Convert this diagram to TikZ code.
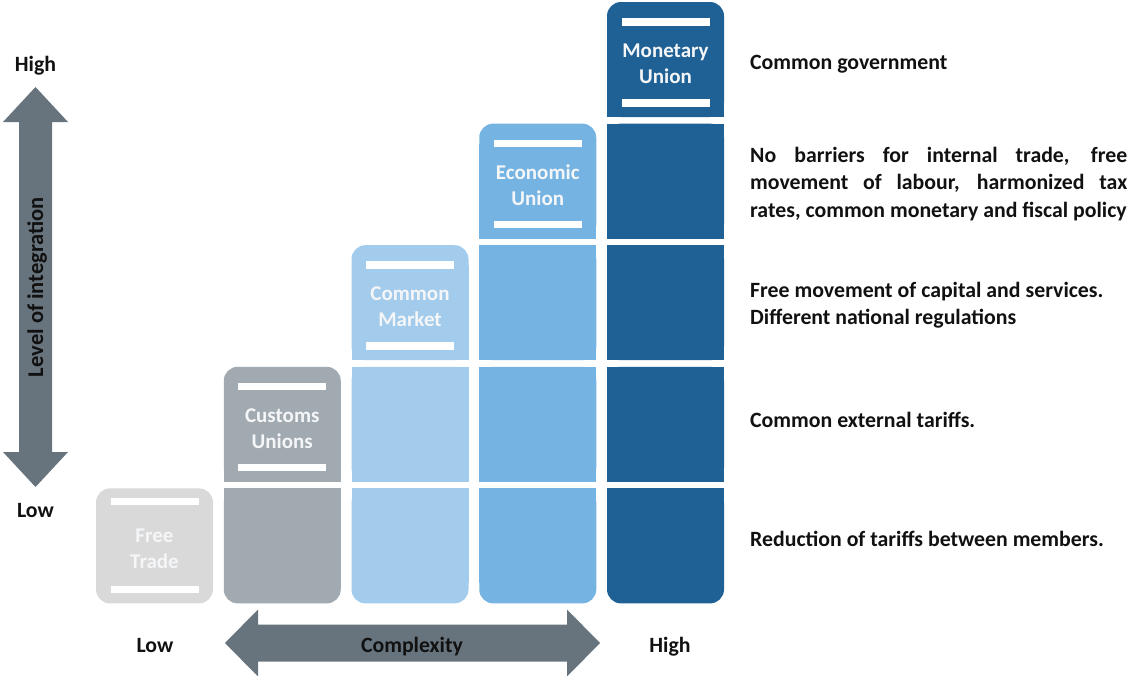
\documentclass[tikz,border=0pt]{standalone}
\usepackage{fontspec}
\setmainfont{Carlito}
\definecolor{ftc}{HTML}{D9D9D9}
\definecolor{cuc}{HTML}{A2AAB1}
\definecolor{cmc}{HTML}{A3CBEC}
\definecolor{euc}{HTML}{75B3E2}
\definecolor{muc}{HTML}{1F6095}
\definecolor{arc}{HTML}{67747D}
\definecolor{txc}{HTML}{111111}
\definecolor{lbc}{HTML}{F4F6F8}
\begin{document}
\begin{tikzpicture}[x=1pt,y=-1pt,
  lbl/.style={font=\bfseries\fontsize{21}{27}\selectfont, text=lbc, anchor=base, inner sep=0pt},
  desc/.style={font=\bfseries\fontsize{21.8}{27}\selectfont, text=txc, anchor=base west, inner sep=0pt},
  axislbl/.style={font=\bfseries\fontsize{21.8}{27}\selectfont, text=txc, anchor=base, inner sep=0pt},
  bar/.style={fill=white}]
\path[use as bounding box] (0,0) rectangle (1129,675);
% Free Trade
\fill[ftc, rounded corners=14pt] (96,488.4) rectangle ++(117,115);
\fill[bar] (110.5,498.4) rectangle (198.5,505.4);
\fill[bar] (110.5,586.4) rectangle (198.5,593.4);
% stacked columns
\foreach \c/\col in {1/cuc,2/cmc,3/euc,4/muc}{
  \foreach \k in {0,...,\c}{
    \pgfmathsetmacro\L{96+127.75*\c}
    \pgfmathsetmacro\T{488.4-121.6*\k}
    \pgfmathsetmacro\ya{\k==\c ? \T+20 : \T}
    \pgfmathsetmacro\yb{\k==0 ? \T+95 : \T+115}
    \fill[\col, rounded corners=14pt] (\L,\T) rectangle ++(117,115);
    \fill[\col] (\L,\ya) rectangle (\L+117,\yb);
  }
  \pgfmathsetmacro\L{96+127.75*\c}
  \pgfmathsetmacro\T{488.4-121.6*\c}
  \fill[bar] (\L+14.5,\T+16) rectangle (\L+102.5,\T+23.5);
  \fill[bar] (\L+14.5,\T+97) rectangle (\L+102.5,\T+104.5);
}
% column labels
\node[lbl] (ft1) at (154.5,542) {Free};
\node[lbl] (ft2) at (154.5,568) {Trade};
\node[lbl] (cu1) at (282.25,422.3) {Customs};
\node[lbl] (cu2) at (282.25,448.3) {Unions};
\node[lbl] (cm1) at (410,300.7) {Common};
\node[lbl] (cm2) at (410,326.7) {Market};
\node[lbl] (eu1) at (537.75,179.1) {Economic};
\node[lbl] (eu2) at (537.75,205.1) {Union};
\node[lbl] (mu1) at (665.5,57.5) {Monetary};
\node[lbl] (mu2) at (665.5,83.5) {Union};
% vertical arrow
\fill[arc] (35.5,87) -- (68,122) -- (52,122) -- (52,452) -- (68,452) -- (35.5,487)
  -- (3,452) -- (19,452) -- (19,122) -- (3,122) -- cycle;
\node[font=\bfseries\fontsize{22.5}{27}\selectfont, text=txc, rotate=90, inner sep=0pt] (lvl) at (37,287) {Level of integration};
\node[axislbl] (hiY) at (35.5,71) {High};
\node[axislbl] (loY) at (35.5,517) {Low};
% horizontal arrow
\fill[arc] (225,643) -- (258,609.5) -- (258,624.5) -- (567,624.5) -- (567,609.5) -- (600,643)
  -- (567,676.5) -- (567,661.5) -- (258,661.5) -- (258,676.5) -- cycle;
\node[axislbl] (cx) at (412,652) {Complexity};
\node[axislbl] (loX) at (155,652) {Low};
\node[axislbl] (hiX) at (670,652) {High};
% descriptions
\node[desc] (d5) at (750,69) {Common government};
\node[desc] (d4a) at (750,162) {\makebox[377pt][s]{No barriers for internal trade, free}};
\node[desc] (d4b) at (750,189.5) {\makebox[377pt][s]{movement of labour, harmonized tax}};
\node[desc] (d4c) at (750,217) {rates, common monetary and fiscal policy};
\node[desc] (d3a) at (750,297) {Free movement of capital and services.};
\node[desc] (d3b) at (750,324) {Different national regulations};
\node[desc] (d2) at (750,427) {Common external tariffs.};
\node[desc] (d1) at (750,546) {Reduction of tariffs between members.};
\end{tikzpicture}
\end{document}
